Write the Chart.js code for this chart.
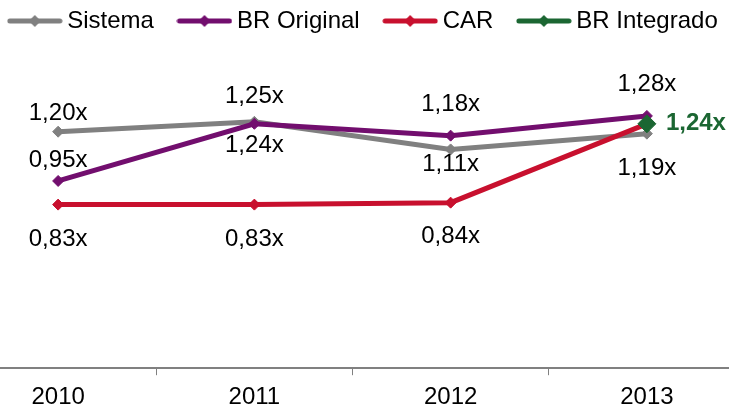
<!DOCTYPE html>
<html>
<head>
<meta charset="utf-8">
<script src="https://cdn.jsdelivr.net/npm/chart.js@4.4.0/dist/chart.umd.min.js"></script>
<style>
  html, body { margin: 0; padding: 0; background: #fff; overflow: hidden; width: 729px; height: 407px; }
  #wrap { position: absolute; left: -40px; top: -21px; width: 812px; height: 440px; }
</style>
</head>
<body>
<div id="wrap"><canvas id="grafico"></canvas></div>
<script>
// Dados
const anos = ['2010', '2011', '2012', '2013'];
const sistema = [1.20, 1.25, 1.11, 1.19];
const brOriginal = [0.95, 1.24, 1.18, 1.28];
const car = [0.83, 0.83, 0.84, 1.24];
const brIntegrado = [null, null, null, 1.24];

const cinza = '#808080';
const roxo = '#720E6E';
const vermelho = '#C8102E';
const verde = '#1B6632';
const fonte = "'Liberation Sans', Arial, sans-serif";

// Ícone da legenda: linha com losango no meio
function iconeLegenda(cor) {
  const c = document.createElement('canvas');
  c.width = 56; c.height = 14;
  const g = c.getContext('2d');
  g.strokeStyle = cor; g.lineWidth = 5; g.lineCap = 'round';
  g.beginPath(); g.moveTo(3, 7); g.lineTo(53, 7); g.stroke();
  g.fillStyle = cor;
  g.beginPath(); g.moveTo(28 - 6, 7); g.lineTo(28, 1); g.lineTo(28 + 6, 7); g.lineTo(28, 13); g.closePath(); g.fill();
  return c;
}

// Rótulos de dados (deslocamento vertical de cada ponto; null = sem rótulo)
const rotulos = {
  id: 'rotulos',
  afterDatasetsDraw(chart) {
    const ctx = chart.ctx;
    chart.data.datasets.forEach((ds, i) => {
      const meta = chart.getDatasetMeta(i);
      const r = ds.rotulo;
      meta.data.forEach((pt, j) => {
        const v = ds.data[j];
        if (v == null || r.dy[j] == null) return;
        ctx.save();
        ctx.font = (r.negrito ? 'bold ' : '') + '24px ' + fonte;
        ctx.fillStyle = r.cor;
        ctx.textAlign = r.dx ? 'left' : 'center';
        ctx.textBaseline = 'middle';
        ctx.fillText(v.toFixed(2).replace('.', ',') + 'x', pt.x + (r.dx || 0), pt.y + r.dy[j]);
        ctx.restore();
      });
    });
  }
};

function serie(nome, dados, cor, ordem, raio, rotulo) {
  return {
    label: nome,
    data: dados,
    borderColor: cor,
    backgroundColor: cor,
    borderWidth: 5,
    tension: 0,
    pointStyle: 'rectRot',
    pointRadius: raio,
    pointHoverRadius: raio,
    pointBorderWidth: 1,
    pointBorderColor: cor,
    pointBackgroundColor: cor,
    order: ordem,
    clip: false,
    rotulo: rotulo
  };
}

const icones = [iconeLegenda(cinza), iconeLegenda(roxo), iconeLegenda(vermelho), iconeLegenda(verde)];

const grafico = new Chart(document.getElementById('grafico'), {
  type: 'line',
  data: {
    labels: anos,
    datasets: [
      serie('Sistema', sistema, cinza, 4, 5.5, { dy: [-18, -25, 15, 35], cor: '#000' }),
      serie('BR Original', brOriginal, roxo, 2, 5.5, { dy: [-21, 22, -31, -32], cor: '#000' }),
      serie('CAR', car, vermelho, 3, 5.5, { dy: [35, 35, 34, null], cor: '#000' }),
      serie('BR Integrado', brIntegrado, verde, 1, 9, { dy: [null, null, null, 0], dx: 19, cor: verde, negrito: true })
    ]
  },
  options: {
    responsive: true,
    maintainAspectRatio: false,
    animation: false,
    devicePixelRatio: 1,
    layout: { padding: 0, autoPadding: false },
    plugins: {
      tooltip: { enabled: false },
      legend: {
        position: 'top',
        labels: {
          usePointStyle: true,
          pointStyleWidth: 41,
          padding: 30,
          color: '#000',
          font: { family: fonte, size: 24 },
          sort: (a, b) => a.datasetIndex - b.datasetIndex,
          generateLabels(chart) {
            const itens = Chart.defaults.plugins.legend.labels.generateLabels(chart);
            itens.forEach(it => { it.pointStyle = icones[it.datasetIndex]; });
            return itens;
          }
        }
      }
    },
    scales: {
      x: {
        type: 'category',
        offset: true,
        grid: { offset: true, drawOnChartArea: false, drawTicks: true, tickLength: 7, color: cinza, lineWidth: 1 },
        border: { display: true, color: cinza, width: 2 },
        ticks: { color: '#000', font: { family: fonte, size: 24 }, padding: 7.5, maxRotation: 0 }
      },
      y: {
        position: 'right',
        min: 0,
        max: 1.65,
        grid: { display: false },
        border: { display: false },
        ticks: { display: false },
        afterFit(s) { s.width = 27; }
      }
    }
  },
  plugins: [rotulos]
});
</script>
</body>
</html>
